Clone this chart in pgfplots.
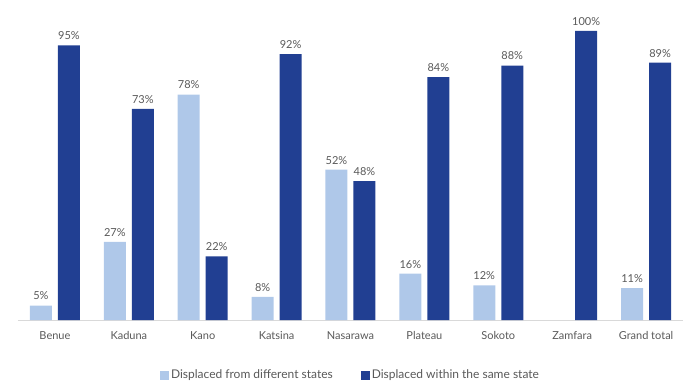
\documentclass[border=0pt]{standalone}
\usepackage{pgfplots}
\pgfplotsset{compat=1.18}
\usepackage{fontspec}
\setmainfont{Lato}
\definecolor{lightb}{HTML}{AFC8E9}
\definecolor{darkb}{HTML}{213F92}
\definecolor{txt}{HTML}{595959}
\definecolor{axl}{HTML}{D9D9D9}
\begin{document}
\begin{tikzpicture}
\useasboundingbox (0,0) rectangle (696pt,383pt);
\begin{axis}[
  at={(18pt,63pt)}, anchor=south west,
  scale only axis, width=665pt, height=318pt,
  ybar, bar width=22pt,
  xmin=-0.5, xmax=8.5, ymin=0, ymax=110,
  axis y line=none,
  axis x line*=bottom,
  x axis line style={draw=axl, line width=0.8pt},
  xtick={0,...,8},
  xticklabels={Benue,Kaduna,Kano,Katsina,Nasarawa,Plateau,Sokoto,Zamfara,Grand total},
  major tick length=0pt,
  /pgf/number format/assume math mode=true,
  x tick label style={font=\fontsize{11}{13}\selectfont, text=txt, yshift=-8pt},
  nodes near coords={\pgfmathprintnumber{\pgfplotspointmeta}\%},
  every node near coord/.append style={font=\fontsize{11}{13}\selectfont, text=txt, yshift=2pt},
  legend style={at={(0.5,-0.173)}, anchor=center, draw=none, fill=none,
    font=\fontsize{12}{14}\selectfont, text=txt, legend columns=2,
    /tikz/every even column/.append style={column sep=26pt}},
  legend image code/.code={\fill[#1] (0pt,-4.5pt) rectangle (9pt,4.5pt);},
]
\addplot[ybar, bar shift=-14pt, fill=lightb, draw=none] coordinates {
  (0,5) (1,27) (2,78) (3,8) (4,52) (5,16) (6,12) (8,11)};
\addplot[ybar, bar shift=14pt, fill=darkb, draw=none] coordinates {
  (0,95) (1,73) (2,22) (3,92) (4,48) (5,84) (6,88) (7,100) (8,89)};
\legend{Displaced from different states, Displaced within the same state}
\end{axis}
\end{tikzpicture}
\end{document}
